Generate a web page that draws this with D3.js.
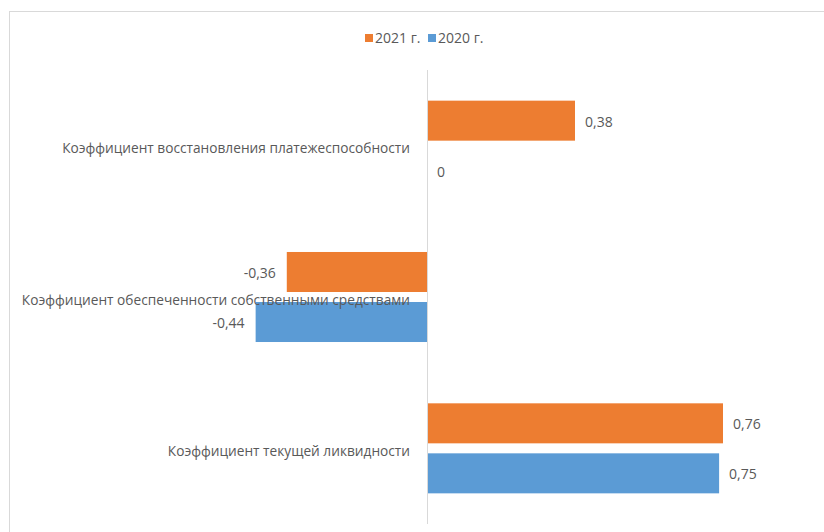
<!DOCTYPE html>
<html>
<head>
<meta charset="utf-8">
<script src="https://cdn.jsdelivr.net/npm/d3@7"></script>
<style>
  html, body { margin: 0; padding: 0; background: #fff; }
  svg { display: block; }
  text { font-family: "Open Sans", "DejaVu Sans", sans-serif; fill: #595959; }
</style>
</head>
<body>
<svg id="chart" width="824" height="532"></svg>
<script>
// Financial ratios, 2021 vs 2020
const categories = [
  "Коэффициент восстановления платежеспособности",
  "Коэффициент обеспеченности собственными средствами",
  "Коэффициент текущей ликвидности"
];
const seriesNames = ["2021 г.", "2020 г."];
const values2021 = [0.38, -0.36, 0.76];
const values2020 = [0, -0.44, 0.75];
const seriesColors = ["#ED7D31", "#5B9BD5"];

const fmt = v => String(v).replace(".", ",");

const svg = d3.select("#chart");
const W = 824, H = 532;

// chart frame
svg.append("rect")
  .attr("x", 9.5).attr("y", 11.5)
  .attr("width", W).attr("height", H)
  .attr("fill", "#fff").attr("stroke", "#d9d9d9");

const plot = { top: 70, bottom: 524 };

const x = d3.scaleLinear().domain([0, 0.38]).range([427, 575]);
const y = d3.scaleBand().domain(categories).range([plot.top, plot.bottom]);
const inner = d3.scaleBand().domain(seriesNames).range([0, y.bandwidth()])
  .paddingInner(0.2).paddingOuter(0.613);

const rows = categories.map((c, i) => ({
  cat: c,
  vals: [
    { s: seriesNames[0], v: values2021[i], color: seriesColors[0] },
    { s: seriesNames[1], v: values2020[i], color: seriesColors[1] }
  ]
}));

const g = svg.append("g");

const groups = g.selectAll("g.row").data(rows).join("g")
  .attr("class", "row")
  .attr("transform", d => `translate(0,${y(d.cat)})`);

groups.selectAll("rect").data(d => d.vals).join("rect")
  .attr("x", d => Math.min(x(0), x(d.v)))
  .attr("width", d => Math.abs(x(d.v) - x(0)))
  .attr("y", d => inner(d.s))
  .attr("height", inner.bandwidth())
  .attr("fill", d => d.color);

// value labels
groups.selectAll("text.val").data(d => d.vals).join("text")
  .attr("class", "val")
  .attr("x", d => d.v < 0 ? x(d.v) - 11 : x(d.v) + 10)
  .attr("y", d => inner(d.s) + inner.bandwidth() / 2 + 1)
  .attr("dy", "0.35em")
  .attr("text-anchor", d => d.v < 0 ? "end" : "start")
  .attr("font-size", 14)
  .text(d => fmt(d.v));

// vertical category axis at zero
g.append("line")
  .attr("x1", x(0) + 0.5).attr("x2", x(0) + 0.5)
  .attr("y1", plot.top).attr("y2", plot.bottom)
  .attr("stroke", "#d9d9d9");

// category labels
g.selectAll("text.cat").data(categories).join("text")
  .attr("class", "cat")
  .attr("x", 410)
  .attr("y", d => y(d) + y.bandwidth() / 2 + 3)
  .attr("dy", "0.35em")
  .attr("text-anchor", "end")
  .attr("font-size", 13.7)
  .text(d => d);

// legend
const legend = svg.append("g").attr("transform", "translate(365,38)");
const items = legend.selectAll("g").data(seriesNames).join("g")
  .attr("transform", (d, i) => `translate(${i * 63},0)`);
items.append("rect")
  .attr("x", 0).attr("y", -4).attr("width", 8).attr("height", 8)
  .attr("fill", (d, i) => seriesColors[i]);
items.append("text")
  .attr("x", 10).attr("y", 0).attr("dy", "0.35em")
  .attr("font-size", 14)
  .text(d => d);
</script>
</body>
</html>
